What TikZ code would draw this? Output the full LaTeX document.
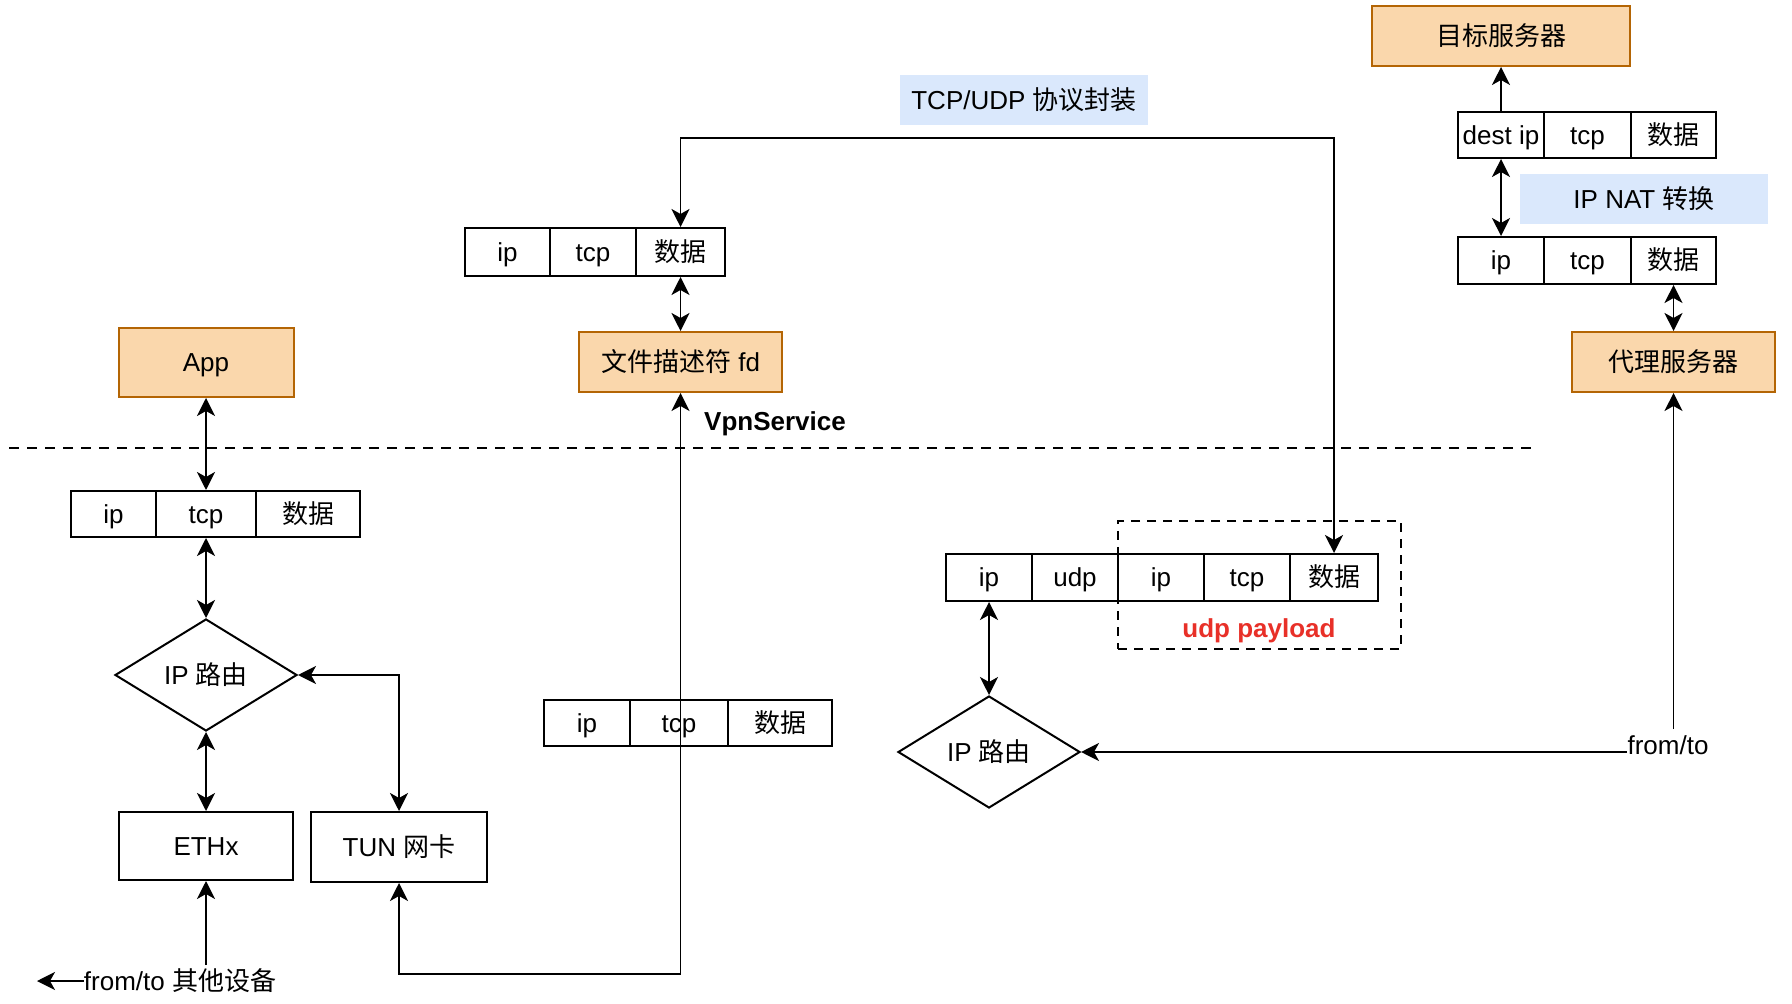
\documentclass[tikz,border=0pt]{standalone}
\usepackage{fontspec}
\setmainfont{Liberation Sans}
\newfontfamily\cjk{Noto Sans CJK SC}
\usetikzlibrary{shapes.geometric,arrows.meta}
\definecolor{orfill}{RGB}{250,215,172}
\definecolor{ordraw}{RGB}{180,101,4}
\definecolor{bluebg}{RGB}{218,232,252}
\definecolor{redtxt}{RGB}{232,48,40}
\begin{document}
\begin{tikzpicture}[x=0.5pt,y=-0.5pt,
  font=\fontsize{13}{15}\selectfont,
  >={Stealth[length=9pt,width=9pt,inset=2.5pt]},
  tb/.style={text height=12.5pt, text depth=3pt},
  cell/.style={tb, draw, line width=1pt, fill=white, inner sep=0pt, minimum height=23.5pt},
  orbox/.style={tb, draw=ordraw, fill=orfill, line width=1pt, inner sep=0pt},
  plainbox/.style={tb, draw, line width=1pt, fill=white, inner sep=0pt},
  lbl/.style={tb, fill=bluebg, inner sep=0pt},
  dia/.style={tb, diamond, draw, line width=1pt, aspect=1.625, inner sep=0pt, minimum width=91pt, minimum height=56pt},
  con/.style={line width=0.95pt},
  sep/.style={line width=0.9pt, dash pattern=on 5pt off 4pt},
  txt/.style={tb, inner sep=0pt}]
\useasboundingbox (0,0) rectangle (1792,1004);

% separator line
\coordinate (sepL) at (9,448);
\coordinate (sepR) at (1533,448);
\draw[sep] (sepL) -- (sepR);

% ---------- left column ----------
\node[orbox, minimum width=87.5pt, minimum height=34.5pt] (app) at (206,362.5) {App};
\node[cell, minimum height=23pt, minimum width=42.5pt] (L1) at (113.5,514) {ip};
\node[cell, minimum height=23pt, minimum width=50pt] (L2) at (206,514) {tcp};
\node[cell, minimum height=23pt, minimum width=52pt] (L3) at (308,514) {\cjk 数据};
\node[dia] (d1) at (206,675) {IP {\cjk 路由}};
\node[plainbox, minimum width=87pt, minimum height=34pt] (ethx) at (206,846) {ETHx};
\node[plainbox, minimum width=88pt, minimum height=35pt] (tun) at (399,847) {TUN {\cjk 网卡}};
\node[txt] (other) at (180,981) {from/to {\cjk 其他设备}};
\coordinate (farleft) at (37,981);

% ---------- middle column ----------
\node[lbl, minimum width=124pt, minimum height=25pt] (tcplbl) at (1024,100) {TCP/UDP {\cjk 协议封装}};
\node[cell, minimum height=24pt, minimum width=42.5pt] (T1) at (507.5,252) {ip};
\node[cell, minimum height=24pt, minimum width=43pt] (T2) at (593,252) {tcp};
\node[cell, minimum height=24pt, minimum width=44.5pt] (T3) at (680.5,252) {\cjk 数据};
\node[orbox, minimum width=101.5pt, minimum height=30pt] (fd) at (680.5,362) {{\cjk 文件描述符} fd};
\node[txt] (vpn) at (775,421) {\bfseries VpnService};
\node[cell, minimum height=23pt, minimum width=43pt] (M1) at (587,723) {ip};
\node[cell, minimum height=23pt, minimum width=49pt] (M2) at (679,723) {tcp};
\node[cell, minimum height=23pt, minimum width=52pt] (M3) at (780,723) {\cjk 数据};

% ---------- right-middle ----------
\node[draw, line width=1pt, dash pattern=on 4.5pt off 3.5pt, minimum width=141.5pt, minimum height=64pt, inner sep=0pt] (payload) at (1259.5,585) {};
\node[cell, minimum width=43pt] (R1) at (989,577.5) {ip};
\node[cell, minimum width=43pt] (R2) at (1075,577.5) {udp};
\node[cell, minimum width=43pt] (R3) at (1161,577.5) {ip};
\node[cell, minimum width=43pt] (R4) at (1247,577.5) {tcp};
\node[cell, minimum width=44pt] (R5) at (1334,577.5) {\cjk 数据};
\node[txt, text=redtxt] (udplbl) at (1259,628) {\bfseries udp payload};
\node[dia] (d2) at (989,752) {IP {\cjk 路由}};
\node[txt] (fromto) at (1668,745) {from/to};

% ---------- right column ----------
\node[orbox, minimum width=129pt, minimum height=30pt] (target) at (1501,36) {\cjk 目标服务器};
\node[cell, minimum height=23pt, minimum width=43pt] (D1) at (1501,135) {dest ip};
\node[cell, minimum height=23pt, minimum width=43.5pt] (D2) at (1587.5,135) {tcp};
\node[cell, minimum height=23pt, minimum width=42.5pt] (D3) at (1673.5,135) {\cjk 数据};
\node[lbl, minimum width=124pt, minimum height=25pt] (natlbl) at (1644,199) {IP NAT {\cjk 转换}};
\node[cell, minimum width=43pt] (P1) at (1501,260.5) {ip};
\node[cell, minimum width=43.5pt] (P2) at (1587.5,260.5) {tcp};
\node[cell, minimum width=42.5pt] (P3) at (1673.5,260.5) {\cjk 数据};
\node[orbox, minimum width=101.5pt, minimum height=30pt] (proxy) at (1673.5,362) {\cjk 代理服务器};

% ---------- connectors ----------
\draw[con,<->] (app.south) -- (L2.north);
\draw[con,<->] (L2.south) -- (d1.north);
\draw[con,<->] (d1.south) -- (ethx.north);
\draw[con,<->] (d1.east) -| (tun.north);
\draw[con,->] (other.north -| ethx.south) -- (ethx.south);
\draw[con,->] (other.west) -- (farleft);

\coordinate (bl) at (399,974);
\coordinate (br) at (680.5,974);
\draw[con,<->] (tun.south) -- (bl) -- (br) -- (fd.south);
\draw[con,<->] (fd.north) -- (T3.south);

\coordinate (tl) at (680.5,138);
\coordinate (tr) at (1334,138);
\draw[con,<->] (T3.north) -- (tl) -- (tr) -- (R5.north);

\draw[con,<->] (R1.south) -- (d2.north);
\draw[con,->] (fromto.west |- d2.east) -- (d2.east);
\draw[con,->] (fromto.north -| proxy.south) -- (proxy.south);
\draw[con,<->] (P3.south) -- (proxy.north);
\draw[con,<->] (P1.north) -- (D1.south);
\draw[con,->] (D1.north) -- (target.south);
\end{tikzpicture}
\end{document}
